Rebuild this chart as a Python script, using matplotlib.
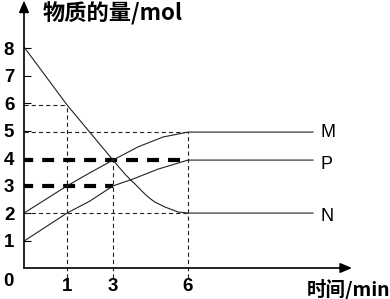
import numpy as np
import matplotlib
matplotlib.use("Agg")
import matplotlib.pyplot as plt

# amounts (mol)
TIME_M = [0, 1, 2, 3, 4, 5, 6]
AMOUNT_M = [2.0, 2.99, 3.47, 3.93, 4.41, 4.77, 4.95]

TIME_P = [0, 1, 2, 3, 3.8, 4.8, 6]
AMOUNT_P = [0.98, 2.0, 2.44, 2.99, 3.24, 3.6, 3.93]

TIME_N = [0, 1, 3, 3.25, 3.48, 3.68, 3.88, 4.08, 4.28, 4.48, 4.68, 5.08,
          5.4, 5.6, 6]
AMOUNT_N = [8.05, 5.94, 3.93, 3.66, 3.42, 3.23, 3.06, 2.87, 2.69, 2.53,
            2.4, 2.22, 2.11, 2.04, 2.0]

END_TIME = 11  # flat part after equilibrium
SERIES_NAMES = ["M", "P", "N"]

# helper guide lines
GUIDE_TIMES = [1, 3, 6]
GUIDE_TOPS = [5.94, 3.93, 4.95]
GUIDE_LEVELS = [5.94, 4.95, 2.0]
GUIDE_LEVEL_ENDS = [1, 6, 6]
BOLD_LEVELS = [3.93, 2.99]
BOLD_ENDS = [6, 3]

X_TICKS = [1, 3, 6]
Y_TICKS = [1, 2, 3, 4, 5, 6, 7, 8]

# the time axis is not drawn to scale in the original
T_KNOTS = [0, 1, 3, 6, 30]
P_KNOTS = [0, 43, 89, 164, 764]


def fwd(t):
    return np.interp(t, T_KNOTS, P_KNOTS)


def inv(p):
    return np.interp(p, P_KNOTS, T_KNOTS)


plt.rcParams["lines.scale_dashes"] = False
CJK = ["Noto Sans CJK SC", "DejaVu Sans"]

W, H = 390, 299
fig = plt.figure(figsize=(W / 100, H / 100), dpi=100)
ax = fig.add_axes([24 / W, (H - 268) / H, (W - 24) / W, 268 / H])
ax.set_xscale("function", functions=(fwd, inv))
ax.set_xlim(0, inv(366))
ax.set_ylim(0, 268 / 27.46)
for s in ax.spines.values():
    s.set_visible(False)

thin = dict(color="#222222", lw=0.8, linestyle=(0, (3, 2.2)))
ax.vlines(GUIDE_TIMES, -0.35, GUIDE_TOPS, clip_on=False, **thin)
ax.hlines(GUIDE_LEVELS, 0, GUIDE_LEVEL_ENDS, **thin)
ax.hlines(BOLD_LEVELS, 0, BOLD_ENDS, color="black", lw=3.0,
          linestyle=(2, (8.6, 6.5)))

curve = dict(color="#222222", lw=0.8)
for name, t, v in [("M", TIME_M, AMOUNT_M), ("P", TIME_P, AMOUNT_P),
                   ("N", TIME_N, AMOUNT_N)]:
    ax.plot(list(t) + [END_TIME], list(v) + [v[-1]], **curve)
    dy = {"M": 0.0, "P": -0.15, "N": -0.12}[name]
    ax.text(END_TIME + 0.28, v[-1] + dy, name, ha="left", va="center",
            fontsize=13, family="Liberation Sans", color="black")

# axes with arrows
arrow = dict(arrowstyle="-|>,head_length=0.7,head_width=0.3", color="black",
             lw=1.2, shrinkA=0, shrinkB=0)
ax.annotate("", xy=(inv(328), 0), xytext=(0, 0), arrowprops=arrow,
            annotation_clip=False)
ax.annotate("", xy=(0, 9.74), xytext=(0, 0), arrowprops=arrow,
            annotation_clip=False)

ax.set_yticks(Y_TICKS)
ax.set_yticklabels([str(v) for v in Y_TICKS], fontsize=13.5,
                   fontweight="bold", family="Liberation Sans")
ax.tick_params(axis="y", direction="in", length=5, width=0.8, pad=7)
ax.set_xticks(X_TICKS)
ax.set_xticklabels([str(v) for v in X_TICKS], fontsize=13.5,
                   fontweight="bold", family="Liberation Sans")
ax.tick_params(axis="x", length=0, pad=7)
ax.xaxis.set_minor_locator(matplotlib.ticker.NullLocator())
ax.annotate("0", xy=(0, 0), xytext=(-11, -10), textcoords="offset points",
            ha="center", va="center", fontsize=13.5, fontweight="bold",
            family="Liberation Sans")

fig.text(43 / W, 1 - 14 / H, "物质的量/mol", ha="left", va="center",
         fontsize=16, family=CJK, fontweight="bold")
fig.text(307 / W, 1 - 290 / H, "时间/min", ha="left", va="center",
         fontsize=14, family=CJK, fontweight="bold")

fig.savefig("out.png", dpi=100)
